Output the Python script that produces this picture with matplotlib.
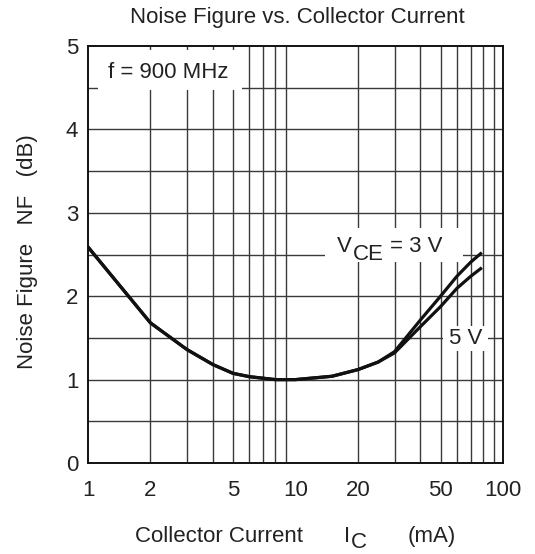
import matplotlib
matplotlib.use('Agg')
import matplotlib.pyplot as plt
from matplotlib.patches import Rectangle
from matplotlib.ticker import FixedLocator, NullFormatter

plt.rcParams['font.family'] = ['Liberation Sans', 'DejaVu Sans']

# collector current (mA) and noise figure (dB)
ic = [1, 2, 3, 4, 5, 6, 8, 10, 15, 20, 25, 30, 40, 50, 60, 70, 78]
nf_3v = [2.59, 1.68, 1.36, 1.18, 1.075, 1.035, 1.0, 1.0, 1.04, 1.12, 1.21,
         1.335, 1.715, 2.0, 2.24, 2.41, 2.51]
nf_5v = [2.59, 1.68, 1.36, 1.18, 1.075, 1.035, 1.0, 1.0, 1.04, 1.12, 1.21,
         1.32, 1.635, 1.875, 2.095, 2.24, 2.33]

xticks = [1, 2, 5, 10, 20, 50, 100]
xgrid = [2, 3, 4, 5, 6, 7, 8, 9, 20, 30, 40, 50, 60, 70, 80, 90]
yticks = [0, 1, 2, 3, 4, 5]
ygrid = [0.5, 1, 1.5, 2, 2.5, 3, 3.5, 4, 4.5]

W, H = 535, 554
FS = 16
TC = '#222222'

def fpx(x, y):
    # figure pixel -> figure fraction
    return x / W, 1 - y / H

fig = plt.figure(figsize=(W/100, H/100), dpi=100)
ax = fig.add_axes([88/W, 1-463/H, 415/W, 417/H])

def apx(x, y):
    # figure pixel -> axes fraction
    return (x - 88) / 415, (463 - y) / 417

ax.set_xscale('log')
ax.set_xlim(1, 100)
ax.set_ylim(0, 5)

for g in xgrid:
    ax.axvline(g, color='#3a3a3a', lw=1.0, zorder=1)
for g in ygrid:
    ax.axhline(g, color='#3a3a3a', lw=1.0, zorder=1)

ax.plot(ic, nf_3v, color='#111111', lw=2.3, zorder=4, solid_joinstyle='round')
ax.plot(ic, nf_5v, color='#111111', lw=2.3, zorder=4, solid_joinstyle='round')

ax.xaxis.set_major_locator(FixedLocator(xticks))
ax.xaxis.set_minor_locator(FixedLocator([]))
ax.xaxis.set_minor_formatter(NullFormatter())
ax.set_xticklabels([str(t) for t in xticks])
ax.set_yticks(yticks)
ax.tick_params(axis='both', length=0, labelsize=FS, colors=TC)
ax.tick_params(axis='x', pad=12)
ax.tick_params(axis='y', pad=7)
for s in ax.spines.values():
    s.set_linewidth(1.4)
    s.set_color('#111111')

# white label boxes over the grid
def wbox(x0, y0, x1, y1):
    a0 = apx(x0, y1)
    a1 = apx(x1, y0)
    ax.add_patch(Rectangle(a0, a1[0]-a0[0], a1[1]-a0[1], transform=ax.transAxes,
                           facecolor='white', edgecolor='none', zorder=3))

def atext(x, y, s, **kw):
    ax.text(*apx(x, y), s, transform=ax.transAxes, fontsize=FS, color=TC,
            zorder=5, **kw)

wbox(98, 50, 242, 90)
atext(168, 72, 'f = 900 MHz', ha='center', va='center')

wbox(325, 228, 463, 262)
atext(337, 252, 'V', ha='left', va='baseline')
atext(353, 260, 'CE', ha='left', va='baseline')
atext(390, 252, '= 3 V', ha='left', va='baseline')

wbox(443, 326, 488, 351)
atext(466, 338, '5 V', ha='center', va='center')

fig.text(*fpx(297, 18), 'Noise Figure vs. Collector Current', fontsize=FS,
         ha='center', va='center', color=TC)
fig.text(*fpx(28, 252), 'Noise Figure   NF   (dB)', fontsize=FS, rotation=90,
         ha='center', va='center', color=TC)
fig.text(*fpx(135, 542), 'Collector Current', fontsize=FS, ha='left', va='baseline', color=TC)
fig.text(*fpx(344, 542), 'I', fontsize=FS, ha='left', va='baseline', color=TC)
fig.text(*fpx(351, 548), 'C', fontsize=FS, ha='left', va='baseline', color=TC)
fig.text(*fpx(408, 542), '(mA)', fontsize=FS, ha='left', va='baseline', color=TC)

fig.savefig('out.png', dpi=100)
